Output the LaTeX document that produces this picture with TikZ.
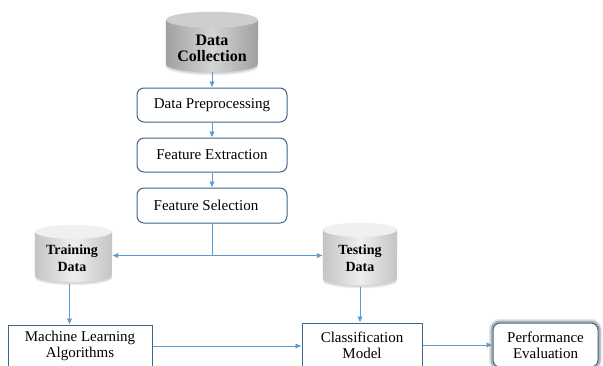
\documentclass[tikz,border=0pt]{standalone}
\usepackage{fontspec}
\setmainfont{Liberation Serif}
\usetikzlibrary{arrows.meta,calc,backgrounds}
\definecolor{link}{RGB}{91,155,213}
\definecolor{frame}{RGB}{65,100,140}
\definecolor{drumedgeA}{RGB}{160,160,160}
\definecolor{drummidA}{RGB}{212,212,212}
\definecolor{drumtopA}{RGB}{206,206,206}
\definecolor{drumedgeB}{RGB}{196,196,196}
\definecolor{drummidB}{RGB}{238,238,238}
\definecolor{drumtopB}{RGB}{240,240,240}
\tikzset{
  flow/.style={draw=link, line width=0.9pt},
  tip/.style={-{Latex[length=6pt,width=5.5pt]}},
  procbox/.style={draw=frame, line width=1pt, rounded corners=7pt, fill=white,
    minimum width=150pt, minimum height=34pt, inner sep=0pt,
    font=\fontsize{15}{17}\selectfont},
  plainbox/.style={draw=frame, line width=1pt, fill=white, inner sep=0pt,
    align=center, font=\fontsize{15}{16}\selectfont},
  drumbox/.style={inner sep=0pt},
  drumtext/.style={inner sep=0pt, align=center, font=\bfseries\fontsize{14}{17}\selectfont},
}
% drum (database) outline behind a node: #1 node, #2 half width, #3 end radius,
% #4 edge shade, #5 middle shade, #6 top shade
\newcommand\drawdrum[6]{%
  \fill[black,opacity=0.08] ($(#1.south)+(0,#3-3)$) ellipse[x radius=#2, y radius=#3];
  \fill[black,opacity=0.10] ($(#1.south)+(0,#3-1.5)$) ellipse[x radius=#2, y radius=#3];
  \shade[left color=#4, right color=#4, middle color=#5]
    ($(#1.north west)+(0,-#3)$) -- ($(#1.south west)+(0,#3)$)
    arc[start angle=180, end angle=360, x radius=#2, y radius=#3]
    -- ($(#1.north east)+(0,-#3)$) -- cycle;
  \fill[#6] ($(#1.north)+(0,-#3)$) ellipse[x radius=#2, y radius=#3];
}
\begin{document}
\begin{tikzpicture}[x=1pt,y=1pt]
\useasboundingbox (0,0) rectangle (603,-365);

% data sources and preprocessing chain
\node[drumbox, minimum width=92pt, minimum height=60pt] (dc) at (212,-42) {};
\node[drumtext, font=\bfseries\fontsize{16}{16}\selectfont] (dct) at (212,-48) {Data\\Collection};
\node[procbox] (dp) at (212,-105) {Data Preprocessing};
\node[procbox] (fe) at (212,-155) {Feature Extraction};
\node[procbox, minimum height=35pt] (fs) at (212,-205.5) {\hspace*{-12pt}Feature Selection};
\coordinate (J) at ($(fs.south)+(0,-32)$);

% split into training and testing sets
\node[drumbox, minimum width=77pt, minimum height=57pt] (td) at (73.5,-253.5) {};
\node[drumtext] (tdt) at (72,-258.5) {Training\\Data};
\node[drumbox, minimum width=74pt, minimum height=62pt] (ts) at (360,-254) {};
\node[drumtext] (tst) at (360,-258.5) {Testing\\Data};

% model stage
\node[plainbox, minimum width=144pt, minimum height=42pt] (ml) at (80,-346)
  {Machine Learning\\Algorithms};
\node[plainbox, minimum width=120pt, minimum height=44pt] (cm) at (362,-345)
  {Classification\\Model};
\node[plainbox, rounded corners=7pt, minimum width=105pt, minimum height=44pt,
  preaction={draw=black!50, line width=8pt, opacity=0.2},
  preaction={draw=black!60, line width=5pt, opacity=0.4}] (pe) at (545.5,-345)
  {Performance\\Evaluation};

\begin{scope}[on background layer]
  \fill[white] (0,0) rectangle (603,-365);
  \drawdrum{dc}{46}{8}{drumedgeA}{drummidA}{drumtopA}
  \drawdrum{td}{38.5}{7}{drumedgeB}{drummidB}{drumtopB}
  \drawdrum{ts}{37}{7}{drumedgeB}{drummidB}{drumtopB}
\end{scope}

% connectors
\draw[flow,tip] (dc.south) -- (dp.north);
\draw[flow,tip] (dp.south) -- (fe.north);
\draw[flow,tip] (fe.south) -- (fs.north);
\draw[flow] (fs.south) -- (J);
\draw[flow,tip] (J) -- (J -| td.east);
\draw[flow,tip] (J) -- (J -| ts.west);
\coordinate (tdo) at ($(td.south)+(-4,-2)$);
\draw[flow,tip] (tdo) -- (tdo |- ml.north);
\coordinate (tso) at ($(ts.south)+(0,-2)$);
\draw[flow,tip] (tso) -- (tso |- cm.north);
\draw[flow,tip] (ml.east) -- (ml.east -| cm.west);
\draw[flow,tip] (cm.east) -- (pe.west);
\end{tikzpicture}
\end{document}
